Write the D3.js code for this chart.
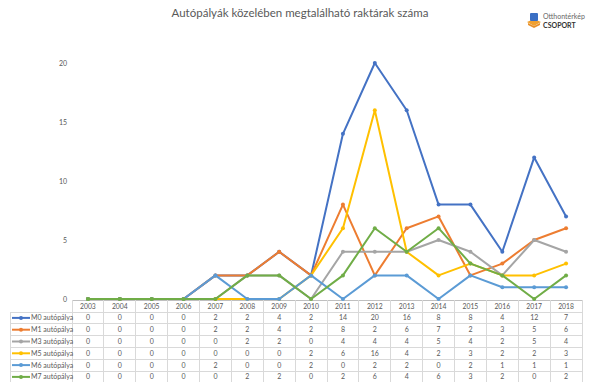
<!DOCTYPE html>
<html><head><meta charset="utf-8">
<script src="https://cdn.jsdelivr.net/npm/d3@7"></script>
<style>body{margin:0;background:#fff}svg{display:block}</style>
</head><body>
<script>
const years = ["2003","2004","2005","2006","2007","2008","2009","2010","2011","2012","2013","2014","2015","2016","2017","2018"];
const seriesNames = ["M0 autópálya","M1 autópálya","M3 autópálya","M5 autópálya","M6 autópálya","M7 autópálya"];
const seriesColors = ["#4472C4","#ED7D31","#A5A5A5","#FFC000","#5B9BD5","#70AD47"];
const m0 = [0,0,0,0,2,2,4,2,14,20,16,8,8,4,12,7];
const m1 = [0,0,0,0,2,2,4,2,8,2,6,7,2,3,5,6];
const m3 = [0,0,0,0,0,2,2,0,4,4,4,5,4,2,5,4];
const m5 = [0,0,0,0,0,0,0,2,6,16,4,2,3,2,2,3];
const m6 = [0,0,0,0,2,0,0,2,0,2,2,0,2,1,1,1];
const m7 = [0,0,0,0,0,2,2,0,2,6,4,6,3,2,0,2];
const yTicks = [0,5,10,15,20];
const title = "Autópályák közelében megtalálható raktárak száma";

const allSeries = [m0,m1,m3,m5,m6,m7];
const W=600,H=382;
const font = "Lato, 'Open Sans', sans-serif";
const svg = d3.select("body").append("svg").attr("width",W).attr("height",H);

const tableLeft=72, tableRight=582, legendLeft=10;
const x = d3.scaleBand().domain(years).range([tableLeft,tableRight]);
const y = d3.scaleLinear().domain([0,20]).range([299,63]);

// title
svg.append("text").attr("x",300).attr("y",17).attr("text-anchor","middle")
  .attr("font-family",font).attr("font-size",11.5).attr("fill","#595959").text(title);

// logo
const logo = svg.append("g");
logo.append("path").attr("d","M527,22 L534,19 L541,22 L534,26 Z").attr("fill","#F0A030");
logo.append("path").attr("d","M528,23 L534,26 L540,23 L540,25 L534,28 L528,25 Z").attr("fill","#E8902A");
logo.append("rect").attr("x",530).attr("y",13).attr("width",8).attr("height",8).attr("rx",1).attr("fill","#3A6FC4");
logo.append("text").attr("x",543).attr("y",19).attr("font-family",font).attr("font-size",7).attr("fill","#666").text("Otthontérkép");
logo.append("text").attr("x",543).attr("y",28).attr("font-family",font).attr("font-size",7).attr("font-weight","bold").attr("fill","#333").text("CSOPORT");

// y axis labels
svg.append("g").selectAll("text").data(yTicks).join("text")
  .attr("x",67).attr("y",d=>y(d)+2.5).attr("text-anchor","end")
  .attr("font-family",font).attr("font-size",7).attr("fill","#595959").text(d=>d);

// table grid
const rowH=11.8, headTop=300, headBottom=312;
const g = svg.append("g").attr("stroke","#D9D9D9").attr("stroke-width",1).attr("shape-rendering","crispEdges");
g.append("line").attr("x1",tableLeft).attr("x2",tableRight).attr("y1",headTop).attr("y2",headTop).attr("stroke","#BFBFBF");
for(let i=0;i<=seriesNames.length;i++){
  const yy = headBottom + i*rowH;
  g.append("line").attr("x1",i===0?legendLeft:legendLeft).attr("x2",tableRight).attr("y1",yy).attr("y2",yy);
}
g.append("line").attr("x1",legendLeft).attr("x2",legendLeft).attr("y1",headBottom).attr("y2",H);
years.forEach((yr,i)=>{
  g.append("line").attr("x1",x(yr)).attr("x2",x(yr)).attr("y1",headTop).attr("y2",H);
});
g.append("line").attr("x1",tableRight).attr("x2",tableRight).attr("y1",headTop).attr("y2",H);

// header years
svg.append("g").selectAll("text").data(years).join("text")
  .attr("x",d=>x(d)+x.bandwidth()/2).attr("y",308.5).attr("text-anchor","middle")
  .attr("font-family",font).attr("font-size",6.8).attr("fill","#595959").text(d=>d);

// rows
seriesNames.forEach((name,si)=>{
  const cy = headBottom + si*rowH + rowH/2;
  const row = svg.append("g");
  row.append("line").attr("x1",12).attr("x2",30).attr("y1",cy).attr("y2",cy).attr("stroke",seriesColors[si]).attr("stroke-width",2);
  row.append("circle").attr("cx",21).attr("cy",cy).attr("r",2).attr("fill",seriesColors[si]);
  row.append("text").attr("x",31).attr("y",cy+2.5).attr("font-family",font).attr("font-size",7).attr("fill","#595959").text(name);
  row.selectAll("text.v").data(allSeries[si]).join("text").attr("class","v")
    .attr("x",(d,i)=>x(years[i])+x.bandwidth()/2).attr("y",cy+2.5).attr("text-anchor","middle")
    .attr("font-family",font).attr("font-size",7).attr("fill","#595959").text(d=>d);
});

// lines
const line = d3.line().x((d,i)=>x(years[i])+x.bandwidth()/2).y(d=>y(d));
allSeries.forEach((s,si)=>{
  svg.append("path").datum(s).attr("d",line).attr("fill","none")
    .attr("stroke",seriesColors[si]).attr("stroke-width",2).attr("stroke-linejoin","round");
  svg.append("g").selectAll("circle").data(s).join("circle")
    .attr("cx",(d,i)=>x(years[i])+x.bandwidth()/2).attr("cy",d=>y(d)).attr("r",2)
    .attr("fill",seriesColors[si]);
});
</script>
</body></html>
